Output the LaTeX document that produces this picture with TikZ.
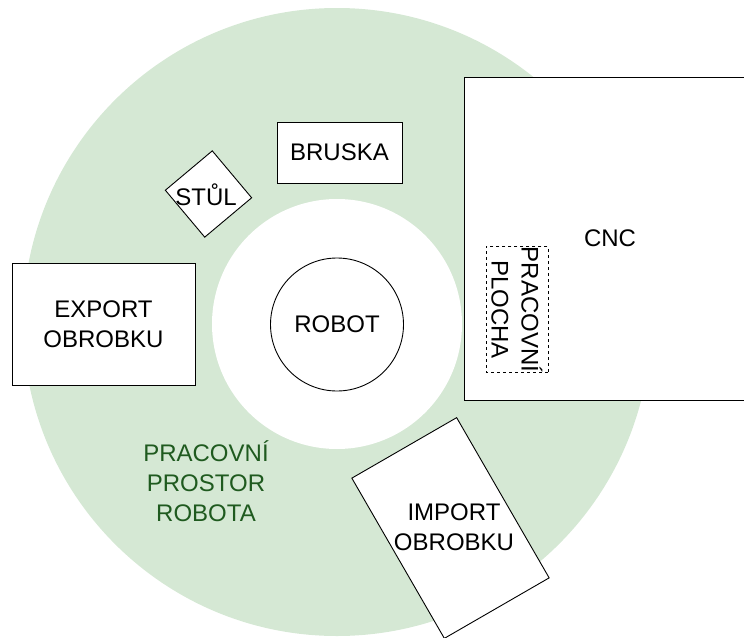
\documentclass[tikz,border=0pt]{standalone}
\usepackage{fontspec}
\setmainfont{Liberation Sans}
\usetikzlibrary{shapes.geometric}
\definecolor{zone}{HTML}{D5E8D4}
\definecolor{zonetext}{HTML}{1F5A1F}

\begin{document}
\begin{tikzpicture}[x=1pt,y=-1pt,font=\fontsize{24}{30}\selectfont]
\tikzstyle{b}=[draw,fill=white,line width=0.9pt,align=center,inner sep=0pt]
\tikzstyle{t}=[align=center,inner sep=0pt]
\useasboundingbox (0,0) rectangle (744,637);
\clip (0,0) rectangle (744,637);
\fill[zone] (337,322) circle[radius=314pt];
\fill[white] (337,324) circle[radius=125pt];
\node[b,circle,minimum size=133pt] (robot) at (337,324.5) {ROBOT};
\node[b,minimum width=125pt,minimum height=61pt] (bruska) at (339.5,152.5) {BRUSKA};
\node[b,diamond,minimum width=87pt,minimum height=87pt,rotate=-5] (stul) at (208.5,194) {};
\node[t] (stult) at (206,195) {STŮL};
\node[b,minimum width=183pt,minimum height=122pt] (export) at (103.5,324) {EXPORT\\OBROBKU};
\node[b,minimum width=292pt,minimum height=323pt] (cnc) at (610,238.5) {CNC};
\node[b,dashed,line width=0.8pt,rotate=-90,minimum width=125pt,minimum height=62pt] (plocha) at (517,309.5) {PRACOVNÍ\\PLOCHA};
\node[b,rotate=30,minimum width=121pt,minimum height=185pt] (import) at (450.5,528) {};
\node[t] (importt) at (454,527) {IMPORT\\OBROBKU};
\node[t,text=zonetext] (prostor) at (206,481) {PRACOVNÍ\\PROSTOR\\ROBOTA};
\end{tikzpicture}
\end{document}
